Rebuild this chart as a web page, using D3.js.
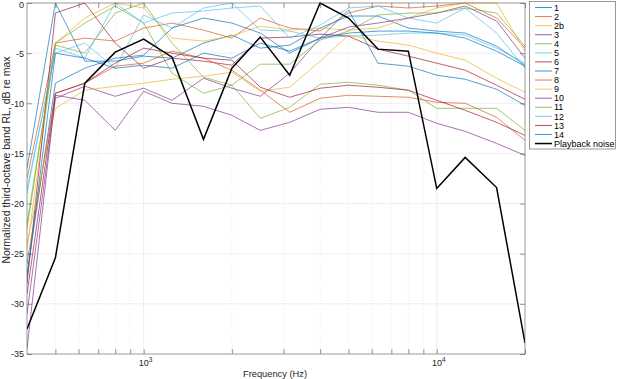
<!DOCTYPE html>
<html><head><meta charset="utf-8">
<script src="https://cdn.jsdelivr.net/npm/d3@7"></script>
<style>body{margin:0;background:#fff;} text{font-family:"Liberation Sans",Arial,sans-serif;}</style>
</head><body><svg id="c" width="617" height="379"></svg>
<script>
const freqs = [400,500,630,800,1000,1250,1600,2000,2500,3150,4000,5000,6300,8000,10000,12500,16000,20000];
const seriesNames = ["1","2","2b","3","4","5","6","7","8","9","10","11","12","13","14"];
const s1  = [-16.5,0,-5.8,-5.8,-5.3,-5.5,-4,-3.2,-4.5,-4.2,-2.5,-1.3,-1.3,-2.5,-2.8,-3,-4.3,-6.2];
const s2  = [-17.5,-4,-3.5,-3.8,-2.5,-2,-2.7,-3.5,-1.5,-2.5,-2.8,-1,-0.3,-0.5,-0.3,0,-1.5,-4.5];
const s2b = [-24.5,-4,-1.5,0,-0.5,-3.5,-3.8,-3.3,-2.3,-2.7,-2.5,-2.7,-2.5,-1.5,-0.5,0,0,-4.8];
const s3  = [-31,-9.5,-8.3,-9.3,-8.5,-9.7,-7.5,-8.5,-9.3,-7,-3.5,-2.4,-2,-1.5,-1,-0.3,-1.8,-5.5];
const s4  = [-22.5,-4,-2,-0.3,-2,-7,-9,-8.2,-6.1,-6.1,-3.7,-2.8,-1.2,-1,-1,-0.5,-1,-4.3];
const s5  = [-18.5,-5,-4,-6.5,-1.2,-2.5,-0.5,0,-2.7,-2.8,-3.5,-3.3,-3.2,-3,-3,-3.2,-4.5,-6];
const s6  = [-28,-1,0,-4,-6.5,-5.5,-5.8,-6.2,-3.5,-3.4,-3.1,-3.3,-4.6,-5.3,-6,-6.7,-8.2,-9.6];
const s7  = [-27,-8,-6.5,-5.5,-5.2,-2.5,-1.5,-2,-3,-5,-3.5,-0.7,-6,-6.3,-7.2,-7.6,-8.6,-10.2];
const s8  = [-26,-9,-8,-6.3,-6,-4.8,-5.5,-6.7,-8.7,-10.9,-9.5,-9.2,-9.3,-9.4,-9.9,-10,-11.4,-13.7];
const s9  = [-24,-10.5,-8.7,-8.3,-8,-7.6,-7.3,-6.9,-8.8,-8.4,-5.8,-3.2,-3.8,-4.2,-5,-5.7,-7.5,-8.9];
const s10 = [-34.5,-9.2,-9.7,-12.7,-8.8,-10,-10.3,-11.2,-12.7,-11.9,-10.6,-10.4,-10.9,-10.9,-12,-12.8,-14,-15.2];
const s11 = [-22,-4.2,-5,-1,0,-4,-7.4,-8.2,-11.5,-10.4,-8.1,-7.9,-8.2,-8.7,-10.5,-10.5,-10.5,-12.7];
const s12 = [-19,-4.5,-5.5,0,-2,-1,-0.8,-0.5,-0.3,-3.5,-2.2,-0.5,-0.3,-1.5,-2,-0.5,-3,-6.5];
const s13 = [-29,-9,-8,-6,-4.5,-5,-5.5,-5.7,-8.4,-9.4,-8.5,-8.2,-8.4,-8.7,-9.7,-10.7,-11.9,-13.2];
const s14 = [-27.5,-5,-5.5,-6.5,-6.2,-6.5,-5,-5.5,-4,-4.8,-3.5,-3,-2.8,-2.8,-3,-3.5,-4.8,-6.3];
const playback = [-32.5,-25.4,-8,-4.9,-3.6,-5.4,-13.6,-6.5,-3.4,-7.2,0,-1.5,-4.6,-4.8,-18.5,-15.4,-18.4,-33.9];
const yTicks = [0,-5,-10,-15,-20,-25,-30,-35];
const xMajor = [1000,10000];
const xMinor = [500,600,700,800,900,2000,3000,4000,5000,6000,7000,8000,9000,20000];

const allSeries = [s1,s2,s2b,s3,s4,s5,s6,s7,s8,s9,s10,s11,s12,s13,s14];
const palette = ["#0072BD","#D95319","#EDB120","#7E2F8E","#77AC30","#4DBEEE","#A2142F"];

const L=27,R=525,T=3,B=354;
const svg=d3.select("#c");
const x=d3.scaleLog().domain([400,20000]).range([L,R]);
const y=d3.scaleLinear().domain([-35,0]).range([B,T]);

// grid
const g=svg.append("g");
g.selectAll(".gy").data(yTicks.filter(v=>v>-35&&v<0)).join("line")
 .attr("x1",L).attr("x2",R).attr("y1",d=>y(d)).attr("y2",d=>y(d))
 .attr("stroke","#e6e6e6").attr("stroke-width",0.7);
g.selectAll(".gx").data(xMajor).join("line")
 .attr("x1",d=>x(d)).attr("x2",d=>x(d)).attr("y1",T).attr("y2",B)
 .attr("stroke","#e6e6e6").attr("stroke-width",0.7);
g.selectAll(".gm").data(xMinor.filter(v=>v<20000)).join("line")
 .attr("x1",d=>x(d)).attr("x2",d=>x(d)).attr("y1",T).attr("y2",B)
 .attr("stroke","#e3e3e3").attr("stroke-width",0.7).attr("stroke-dasharray","1,2");

const line=d3.line().x((d,i)=>x(freqs[i])).y(d=>y(d));
svg.append("clipPath").attr("id","cp").append("rect").attr("x",L).attr("y",T-1).attr("width",R-L).attr("height",B-T+2);
const lg=svg.append("g").attr("clip-path","url(#cp)");
allSeries.forEach((s,k)=>{
  lg.append("path").datum(s).attr("d",line).attr("fill","none")
   .attr("stroke",palette[k%7]).attr("stroke-width",0.8).attr("stroke-opacity",0.85);
});
lg.append("path").datum(playback).attr("d",line).attr("fill","none")
  .attr("stroke","#000").attr("stroke-width",1.5);

// axes box
const ac="#555";
svg.append("rect").attr("x",L).attr("y",T).attr("width",R-L).attr("height",B-T)
  .attr("fill","none").attr("stroke",ac).attr("stroke-width",0.6);
const tickStyle=a=>{a.select(".domain").remove();a.selectAll("line").attr("stroke",ac).attr("stroke-width",0.6);};
svg.append("g").attr("transform",`translate(0,${B})`)
  .call(d3.axisBottom(x).tickValues(xMajor.concat(xMinor)).tickSize(-5).tickFormat("")).call(tickStyle);
svg.append("g").attr("transform",`translate(0,${T})`)
  .call(d3.axisTop(x).tickValues(xMajor.concat(xMinor)).tickSize(-5).tickFormat("")).call(tickStyle);
svg.append("g").attr("transform",`translate(${L},0)`)
  .call(d3.axisLeft(y).tickValues(yTicks).tickSize(-5).tickPadding(3).tickFormat(d=>d))
  .call(tickStyle)
  .call(a=>a.selectAll("text").attr("font-size",9).attr("fill","#262626").attr("font-family","Liberation Sans, Arial, sans-serif")
    .attr("dy",(d)=>d===0?"0.5em":"0.32em"));
svg.append("g").attr("transform",`translate(${R},0)`)
  .call(d3.axisRight(y).tickValues(yTicks).tickSize(-5).tickFormat("")).call(tickStyle);
// x labels 10^3, 10^4
xMajor.forEach(v=>{
  const t=svg.append("text").attr("x",x(v)+2).attr("y",366).attr("text-anchor","middle")
   .attr("font-size",9).attr("fill","#262626");
  t.append("tspan").text("10");
  t.append("tspan").attr("dy",-4).attr("font-size",6.5).text(Math.round(Math.log10(v)));
});
svg.append("text").attr("x",275).attr("y",377).attr("text-anchor","middle")
  .attr("font-size",9.3).attr("fill","#262626").text("Frequency (Hz)");
svg.append("text").attr("transform",`translate(10,160) rotate(-90)`).attr("text-anchor","middle")
  .attr("font-size",10.5).attr("fill","#262626").text("Normalized third-octave band RL, dB re max");

// legend
const leg=svg.append("g");
leg.append("rect").attr("x",529.5).attr("y",1.5).attr("width",86).attr("height",147.5)
  .attr("fill","#fff").attr("stroke",ac).attr("stroke-width",0.6);
const names=seriesNames.concat(["Playback noise"]);
names.forEach((n,k)=>{
  const yy=7.5+k*9.07;
  leg.append("line").attr("x1",535).attr("x2",552).attr("y1",yy).attr("y2",yy)
    .attr("stroke",k<15?palette[k%7]:"#000").attr("stroke-width",k<15?0.9:1.5).attr("stroke-opacity",k<15?0.85:1);
  leg.append("text").attr("x",554).attr("y",yy+3.2).attr("font-size",9).attr("fill","#000").text(n);
});
</script></body></html>
